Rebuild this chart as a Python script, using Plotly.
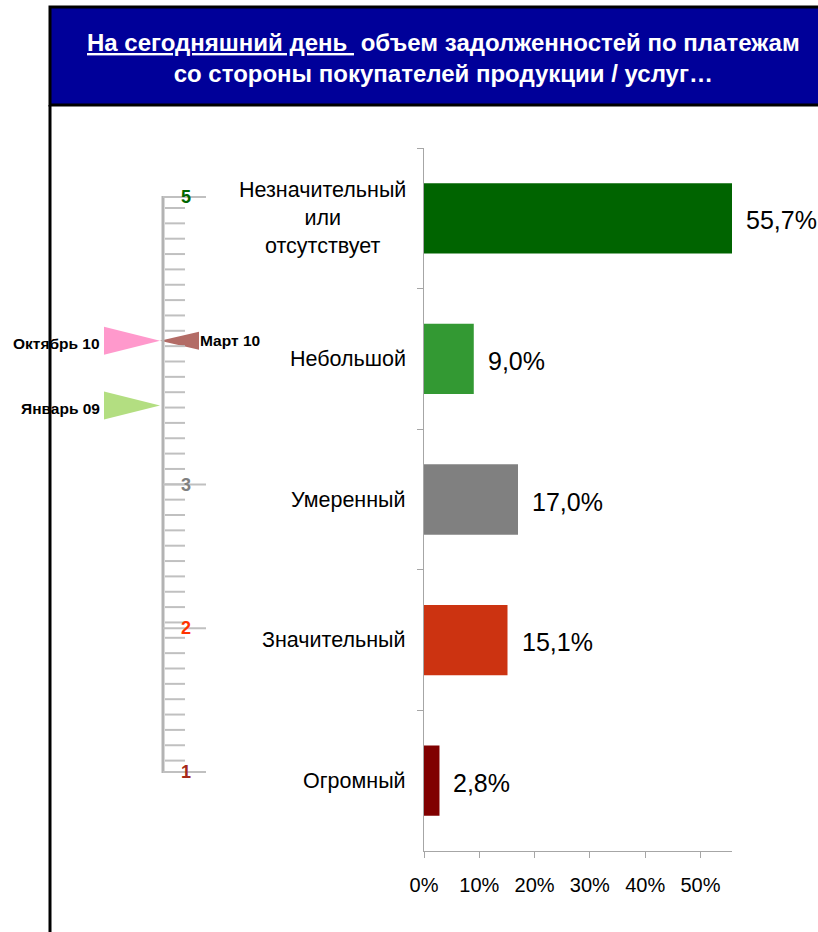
import plotly.graph_objects as go

W, H = 818, 932

# --- bar chart data (top to bottom) ---
categories = ['Незначительный<br>или<br>отсутствует', 'Небольшой', 'Умеренный',
              'Значительный', 'Огромный']
shares = [55.7, 9.0, 17.0, 15.1, 2.8]
bar_colors = ['#006400', '#339933', '#808080', '#cc3311', '#800000']
x_ticks = [0, 10, 20, 30, 40, 50]

# --- left ruler: average score 1..5 ---
scale_values = [5, 3, 2, 1]
scale_colors = ['#006600', '#808080', '#ff3300', '#a52a1a']
period_names = ['Октябрь 10', 'Март 10', 'Январь 09']
period_scores = [4.0, 4.0, 3.55]
period_colors = ['#ff99cc', '#b36c66', '#b3de81']
period_side = ['left', 'right', 'left']

title_text = ('<u>На сегодняшний день </u> объем задолженностей по платежам<br>'
              'со стороны покупателей продукции / услуг…')

FONT = 'Arial, Liberation Sans, sans-serif'
GREY = '#a6a6a6'


def fx(x):
    return x / W


def fy(y):
    return 1 - y / H


# ruler scale: 1 at y=772px, 5 at y=197px
unit = (772 - 197) / 4.0
y2_range = [1 - (H - 772) / unit, 1 + 772 / unit]
RULER_X = 163

fig = go.Figure()

fig.add_trace(go.Bar(
    x=shares, y=categories, orientation='h',
    marker=dict(color=bar_colors, line=dict(width=0)),
    width=0.5, showlegend=False, hoverinfo='skip',
    xaxis='x', yaxis='y'))

# triangles on the ruler
half_big = 14 / unit
half_small = 9 / unit
for name, v, col, side in zip(period_names, period_scores, period_colors, period_side):
    if side == 'left':
        xs = [104, RULER_X - 3, 104, 104]
        ys = [v + half_big, v, v - half_big, v + half_big]
    else:
        xs = [RULER_X - 3, 199, 199, RULER_X - 3]
        ys = [v, v + half_small, v - half_small, v]
    fig.add_trace(go.Scatter(x=xs, y=ys, fill='toself', fillcolor=col,
                             mode='lines', line=dict(width=0, color=col),
                             showlegend=False, hoverinfo='skip',
                             xaxis='x2', yaxis='y2'))

shapes = []
# title box and frame line
shapes.append(dict(type='rect', xref='paper', yref='paper',
                   x0=fx(50), x1=fx(822), y0=fy(105), y1=fy(7),
                   fillcolor='#000099', line=dict(color='black', width=3), layer='below'))
shapes.append(dict(type='line', xref='paper', yref='paper',
                   x0=fx(50), x1=fx(50), y0=fy(105), y1=0,
                   line=dict(color='black', width=3)))

# ruler line
shapes.append(dict(type='line', xref='x2', yref='y2', x0=RULER_X, x1=RULER_X,
                   y0=5 + 1 / unit, y1=1 - 1 / unit,
                   line=dict(color='#b3b3b3', width=3)))
# minor ticks of the ruler
step = 15.35 / unit
t = 5 - 11 / unit
while t > 1 + 8 / unit:
    shapes.append(dict(type='line', xref='x2', yref='y2', x0=RULER_X + 2, x1=185,
                       y0=t, y1=t, line=dict(color='#c0c0c0', width=2)))
    t -= step
# major ticks
for v in scale_values:
    shapes.append(dict(type='line', xref='x2', yref='y2', x0=RULER_X, x1=206,
                       y0=v, y1=v, line=dict(color='#c0c0c0', width=2)))

annotations = []
annotations.append(dict(xref='paper', yref='paper', x=fx(443), y=fy(58),
                        text=title_text, showarrow=False, align='center',
                        xanchor='center', yanchor='middle',
                        font=dict(family=FONT, size=24, color='white', weight='bold')))

# category labels
for c in categories:
    annotations.append(dict(xref='paper', yref='y', x=fx(408), y=c, text=c,
                            showarrow=False, xanchor='right', yanchor='middle',
                            align='center', font=dict(family=FONT, size=21.5, color='black')))

# value labels
for c, v in zip(categories, shares):
    annotations.append(dict(xref='x', yref='y', x=v, y=c,
                            text=f'{v:.1f}%'.replace('.', ','),
                            showarrow=False, xanchor='left', yanchor='middle',
                            xshift=12, yshift=-2,
                            font=dict(family=FONT, size=25, color='black')))

# ruler numbers
for v, col in zip(scale_values, scale_colors):
    annotations.append(dict(xref='x2', yref='y2', x=186, y=v, text=f'<b>{v}</b>',
                            showarrow=False, xanchor='center', yanchor='middle',
                            font=dict(family=FONT, size=18, color=col)))

# period labels
for name, v, side in zip(period_names, period_scores, period_side):
    if side == 'left':
        annotations.append(dict(xref='x2', yref='y2', x=102, y=v, text=f'<b>{name}</b>',
                                showarrow=False, xanchor='right', yanchor='middle', yshift=-3,
                                font=dict(family=FONT, size=15.5, color='black')))
    else:
        annotations.append(dict(xref='x2', yref='y2', x=198, y=v, text=f'<b>{name}</b>',
                                showarrow=False, xanchor='left', yanchor='middle',
                                font=dict(family=FONT, size=15.5, color='black')))

fig.update_layout(
    width=W, height=H,
    margin=dict(l=0, r=0, t=0, b=0, pad=0, autoexpand=False),
    paper_bgcolor='white', plot_bgcolor='rgba(0,0,0,0)',
    font=dict(family=FONT),
    xaxis=dict(domain=[fx(424), fx(732)], range=[0, 55.7], tickvals=x_ticks,
               ticktext=[f'{v}%' for v in x_ticks], ticks='outside', ticklen=6,
               tickcolor=GREY, showline=True, linecolor=GREY, linewidth=1,
               showgrid=False, zeroline=False, anchor='y', ticklabelstandoff=10,
               automargin=False, tickfont=dict(family=FONT, size=20, color='black')),
    yaxis=dict(domain=[fy(851), fy(148)], type='category', categoryarray=categories,
               autorange='reversed', tickson='boundaries', ticks='outside', ticklen=6,
               tickcolor=GREY, showline=True, linecolor=GREY, linewidth=1,
               showticklabels=False, showgrid=False, zeroline=False, anchor='x',
               automargin=False),
    xaxis2=dict(domain=[0, 1], range=[0, W], visible=False, anchor='y2', automargin=False),
    yaxis2=dict(domain=[0, 1], range=y2_range, visible=False, anchor='x2', automargin=False),
    shapes=shapes,
    annotations=annotations,
)

fig.write_html('out.html', config={'displayModeBar': False},
               post_script="document.body.style.margin='0px';")
